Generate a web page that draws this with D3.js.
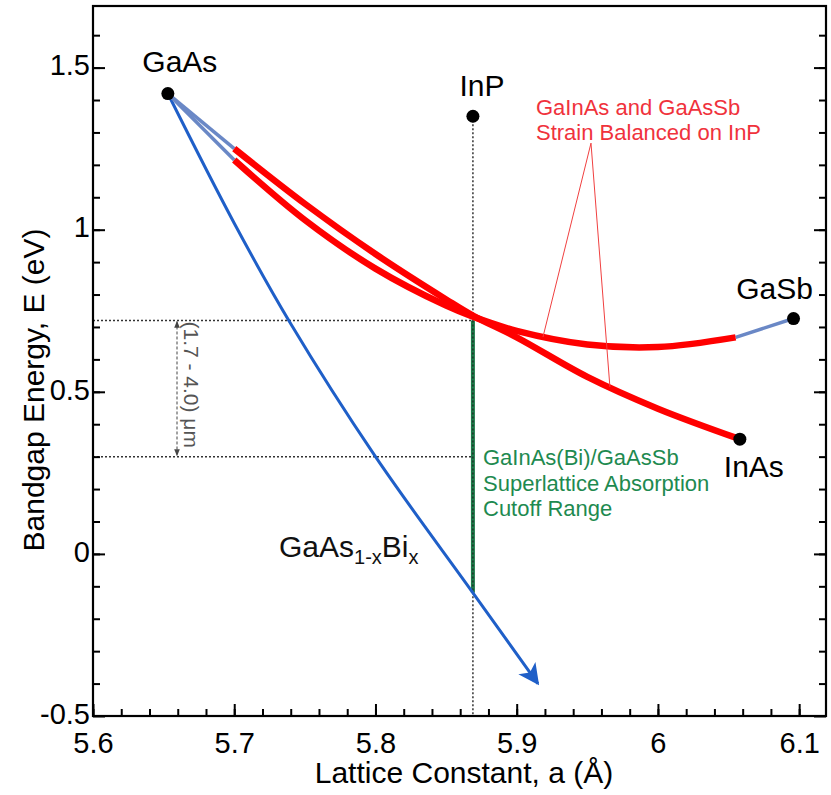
<!DOCTYPE html>
<html>
<head>
<meta charset="utf-8">
<script src="https://cdn.jsdelivr.net/npm/d3@7"></script>
<style>
body { margin: 0; background: #fff; }
svg { font-family: "Liberation Sans", Arial, sans-serif; }
</style>
</head>
<body>
<svg id="chart" width="831" height="795"></svg>
<script>
// binary compounds (lattice constant in A, bandgap in eV)
var binaries = [
    { name: "GaAs", a: 5.653, e: 1.42 },
    { name: "InP", a: 5.869, e: 1.35 },
    { name: "GaSb", a: 6.096, e: 0.726 },
    { name: "InAs", a: 6.058, e: 0.354 }
];

// GaInAs branch
var gainasBlue = [[5.653, 1.42], [5.70, 1.25]];
var gainasRed = [[5.70, 1.25], [5.75, 1.08], [5.80, 0.925], [5.85, 0.785], [5.869, 0.735],
    [5.90, 0.668], [5.95, 0.546], [6.00, 0.448], [6.058, 0.354]];

// GaAsSb branch
var gaassbBlue1 = [[5.653, 1.42], [5.70, 1.215]];
var gaassbRed = [[5.70, 1.215], [5.75, 1.03], [5.80, 0.88], [5.85, 0.766], [5.869, 0.732],
    [5.90, 0.688], [5.95, 0.646], [6.00, 0.638], [6.055, 0.668]];
var gaassbBlue2 = [[6.055, 0.668], [6.096, 0.726]];

// GaAs1-xBix
var gaasbi = [[5.653, 1.42], [5.70, 1.02], [5.74, 0.71], [5.80, 0.30], [5.869, -0.12], [5.915, -0.40]];

// cutoff range on InP
var inpA = 5.869;
var cutoffTop = 0.72;
var cutoffBottom = 0.30;
var greenBottom = -0.12;

// leader lines for the red note: [a1, e1, a2, e2]
var leaders = [[5.9526, 1.267, 5.9186, 0.669], [5.9526, 1.267, 5.966, 0.515]];

var xTicks = [5.6, 5.7, 5.8, 5.9, 6, 6.1];
var yTicks = [-0.5, 0, 0.5, 1, 1.5];

var margin = { left: 93, right: 5, top: 6, bottom: 79 };
var width = 831, height = 795;

var svg = d3.select("#chart");

var x = d3.scaleLinear().domain([5.6, 6.119]).range([margin.left, width - margin.right]);
var y = d3.scaleLinear().domain([-0.5, 1.69]).range([height - margin.bottom, margin.top]);

var line = d3.line().x(function(d){ return x(d[0]); }).y(function(d){ return y(d[1]); });
var curve = d3.line().x(function(d){ return x(d[0]); }).y(function(d){ return y(d[1]); }).curve(d3.curveCatmullRom);

var defs = svg.append("defs");
defs.append("marker")
    .attr("id", "bluehead")
    .attr("viewBox", "0 0 10 10")
    .attr("refX", 9).attr("refY", 5)
    .attr("markerWidth", 7).attr("markerHeight", 7)
    .attr("markerUnits", "strokeWidth")
    .attr("orient", "auto")
    .append("path").attr("d", "M0,0 L10,5 L0,10 L2.5,5 z").attr("fill", "#1f5fc8");

defs.append("marker")
    .attr("id", "grayhead")
    .attr("viewBox", "0 0 10 10")
    .attr("refX", 9).attr("refY", 5)
    .attr("markerWidth", 7).attr("markerHeight", 7)
    .attr("markerUnits", "userSpaceOnUse")
    .attr("orient", "auto-start-reverse")
    .append("path").attr("d", "M0,1 L10,5 L0,9 z").attr("fill", "#444");

// dotted guides
var guides = svg.append("g").attr("stroke", "#333").attr("stroke-width", 1.5).attr("stroke-dasharray", "2,2");
guides.append("line").attr("x1", x(inpA)).attr("x2", x(inpA)).attr("y1", y(1.35)).attr("y2", y(-0.5));
guides.append("line").attr("x1", x(5.6)).attr("x2", x(inpA)).attr("y1", y(cutoffTop)).attr("y2", y(cutoffTop));
guides.append("line").attr("x1", x(5.6)).attr("x2", x(inpA)).attr("y1", y(cutoffBottom)).attr("y2", y(cutoffBottom));

// range arrow
svg.append("line")
    .attr("x1", x(5.6) + 84).attr("x2", x(5.6) + 84)
    .attr("y1", y(cutoffTop) + 1).attr("y2", y(cutoffBottom) - 1)
    .attr("stroke", "#444").attr("stroke-width", 1)
    .attr("stroke-dasharray", "3,2")
    .attr("marker-start", "url(#grayhead)")
    .attr("marker-end", "url(#grayhead)");

svg.append("text")
    .attr("transform", "translate(" + (x(5.6) + 91) + "," + (y(cutoffTop) + 1) + ") rotate(90)")
    .attr("font-size", 21).attr("fill", "#555")
    .text("(1.7 - 4.0) \u03bcm");

// green cutoff line
svg.append("line")
    .attr("x1", x(inpA)).attr("x2", x(inpA)).attr("y1", y(cutoffTop)).attr("y2", y(greenBottom))
    .attr("stroke", "#1e7a4a").attr("stroke-width", 4);
svg.append("line")
    .attr("x1", x(inpA)).attr("x2", x(inpA)).attr("y1", y(cutoffTop)).attr("y2", y(greenBottom))
    .attr("stroke", "#222").attr("stroke-width", 1.2).attr("stroke-dasharray", "2,2");

// GaAsBi
svg.append("path").datum(gaasbi).attr("d", curve)
    .attr("fill", "none").attr("stroke", "#1f5fc8").attr("stroke-width", 3)
    .attr("marker-end", "url(#bluehead)");

// blue end segments
[gainasBlue, gaassbBlue1, gaassbBlue2].forEach(function(seg){
    svg.append("path").datum(seg).attr("d", line)
        .attr("fill", "none").attr("stroke", "#6a88c6").attr("stroke-width", 3.5);
});

// red strain balanced branches
[gainasRed, gaassbRed].forEach(function(seg){
    svg.append("path").datum(seg).attr("d", curve)
        .attr("fill", "none").attr("stroke", "#ff0000").attr("stroke-width", 6.5);
});

// leader lines
leaders.forEach(function(l){
    svg.append("line")
        .attr("x1", x(l[0])).attr("y1", y(l[1])).attr("x2", x(l[2])).attr("y2", y(l[3]))
        .attr("stroke", "#f04040").attr("stroke-width", 1);
});

// binary points
svg.selectAll(".pt").data(binaries).enter().append("circle")
    .attr("cx", function(d){ return x(d.a); })
    .attr("cy", function(d){ return y(d.e); })
    .attr("r", 6.5).attr("fill", "#000");

var labelPos = { GaAs: [12, -22], InP: [9, -20], GaSb: [-19, -20], InAs: [14, 38] };
svg.selectAll(".lbl").data(binaries).enter().append("text")
    .attr("x", function(d){ return x(d.a) + labelPos[d.name][0]; })
    .attr("y", function(d){ return y(d.e) + labelPos[d.name][1]; })
    .attr("text-anchor", "middle").attr("font-size", 30).attr("fill", "#000")
    .text(function(d){ return d.name; });

// GaAs1-xBix label
var bi = svg.append("text").attr("x", 279).attr("y", 557).attr("font-size", 30).attr("fill", "#111");
bi.append("tspan").text("GaAs");
bi.append("tspan").attr("font-size", 20).attr("dy", 7).text("1-x");
bi.append("tspan").attr("dy", -7).text("Bi");
bi.append("tspan").attr("font-size", 20).attr("dy", 7).text("x");

// red annotation
var redText = svg.append("text").attr("font-size", 22).attr("fill", "#f0323c");
redText.append("tspan").attr("x", 536).attr("y", 115).text("GaInAs and GaAsSb");
redText.append("tspan").attr("x", 536).attr("y", 140).text("Strain Balanced on InP");

// green annotation
var greenText = svg.append("text").attr("font-size", 22).attr("fill", "#1e8a50");
["GaInAs(Bi)/GaAsSb", "Superlattice Absorption", "Cutoff Range"].forEach(function(s, i){
    greenText.append("tspan").attr("x", 483).attr("y", 465 + i * 25.5).text(s);
});

// axes
var fmt = function(d){ return String(d); };
var xMinor = svg.append("g").attr("transform", "translate(0," + y(-0.5) + ")");
xMinor.call(d3.axisBottom(x).tickValues(d3.range(5.6, 6.115, 0.02)).tickSize(-7).tickFormat(""))
    .call(function(g){ g.select(".domain").remove(); });
var xMajor = svg.append("g").attr("transform", "translate(0," + y(-0.5) + ")");
xMajor.call(d3.axisBottom(x).tickValues(xTicks).tickSize(-12).tickPadding(16).tickFormat(fmt))
    .call(function(g){ g.select(".domain").remove(); });

var yMinor = svg.append("g").attr("transform", "translate(" + x(5.6) + ",0)");
yMinor.call(d3.axisLeft(y).tickValues(d3.range(-0.4, 1.65, 0.1)).tickSize(-7).tickFormat(""))
    .call(function(g){ g.select(".domain").remove(); });
var yMajor = svg.append("g").attr("transform", "translate(" + x(5.6) + ",0)");
yMajor.call(d3.axisLeft(y).tickValues(yTicks).tickSize(-12).tickPadding(3).tickFormat(fmt))
    .call(function(g){ g.select(".domain").remove(); });

var rMinor = svg.append("g").attr("transform", "translate(" + x(6.119) + ",0)");
rMinor.call(d3.axisRight(y).tickValues(d3.range(-0.4, 1.65, 0.1)).tickSize(-7).tickFormat(""))
    .call(function(g){ g.select(".domain").remove(); });
var rMajor = svg.append("g").attr("transform", "translate(" + x(6.119) + ",0)");
rMajor.call(d3.axisRight(y).tickValues(yTicks).tickSize(-12).tickFormat(""))
    .call(function(g){ g.select(".domain").remove(); });

svg.selectAll(".tick line").attr("stroke", "#000").attr("stroke-width", 2);
svg.selectAll(".tick text").attr("font-size", 29).attr("fill", "#000")
    .attr("font-family", "Liberation Sans, Arial, sans-serif");
yMajor.selectAll(".tick text").attr("dy", "0.25em");

// frame
svg.append("rect")
    .attr("x", x(5.6)).attr("y", y(1.69))
    .attr("width", x(6.119) - x(5.6)).attr("height", y(-0.5) - y(1.69))
    .attr("fill", "none").attr("stroke", "#000").attr("stroke-width", 2.2);

// axis titles
svg.append("text")
    .attr("x", 464).attr("y", 783)
    .attr("text-anchor", "middle").attr("font-size", 30)
    .text("Lattice Constant, a (\u00c5)");
svg.append("text")
    .attr("transform", "translate(44,390) rotate(-90)")
    .attr("text-anchor", "middle").attr("font-size", 30)
    .text("Bandgap Energy, E (eV)");
</script>
</body>
</html>
